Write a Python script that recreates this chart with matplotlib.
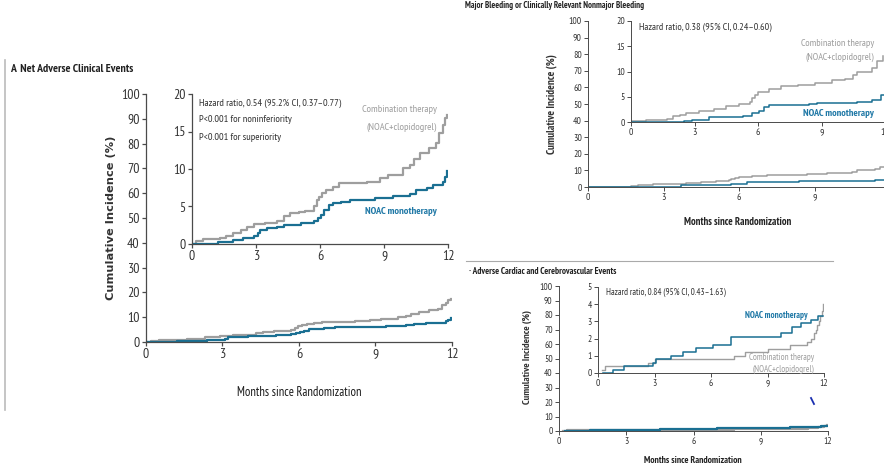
import numpy as np
import matplotlib
matplotlib.use('Agg')
import matplotlib.pyplot as plt
from matplotlib.lines import Line2D

plt.rcParams['font.family'] = ['PT Sans Narrow', 'Roboto Condensed', 'Liberation Sans', 'DejaVu Sans']

W, H = 884, 475
GRAY = '#9e9e9e'
BLUE = '#1a6f92'
LBLUE = '#1f78a6'
AX = '#4a4a4a'
TXT = '#333333'

# ---- data (months, cumulative incidence %) ----
# A: net adverse clinical events
a_comb_t = [0, 0.2, 0.5, 1.3, 1.6, 1.9, 2.3, 2.6, 2.9, 3.4, 4.0, 4.3, 4.6, 5.0, 5.3, 5.7, 5.85,
            5.95, 6.1, 6.3, 6.6, 6.9, 7.5, 8.2, 8.8, 9.2, 9.9, 10.2, 10.4, 10.7, 11.1, 11.45,
            11.6, 11.75, 11.85, 11.95]
a_comb_v = [0, 0.4, 0.7, 0.8, 1.1, 1.4, 1.9, 2.2, 2.6, 2.8, 3.0, 3.7, 4.1, 4.3, 4.4, 5.0, 5.8,
            6.3, 6.8, 7.2, 7.6, 8.1, 8.2, 8.3, 8.8, 9.2, 10.1, 10.6, 11.4, 12.1, 12.8, 13.5,
            14.8, 15.8, 16.8, 17.2]
a_noac_t = [0, 1.2, 1.9, 2.4, 2.9, 3.1, 3.2, 3.5, 4.0, 4.3, 5.1, 5.7, 5.9, 6.05, 6.2, 6.4, 6.6,
            7.0, 7.4, 8.6, 9.4, 10.2, 10.5, 11.0, 11.3, 11.75, 11.85, 11.95]
a_noac_v = [0, 0.3, 0.5, 0.8, 1.0, 1.4, 1.9, 2.1, 2.3, 2.5, 2.8, 3.1, 3.5, 3.9, 4.5, 5.2, 5.4,
            5.6, 5.9, 6.1, 6.4, 6.7, 7.2, 7.5, 7.8, 8.3, 9.0, 9.7]

# B: major or clinically relevant nonmajor bleeding
b_comb_t = [0, 0.7, 1.7, 2.0, 2.3, 2.6, 3.2, 3.9, 4.5, 5.1, 5.6, 5.7, 5.85, 6.0, 6.5, 7.1, 7.9,
            8.7, 9.5, 10.1, 10.5, 10.7, 11.4, 11.6, 11.9]
b_comb_v = [0.2, 0.3, 0.66, 1.1, 1.4, 1.8, 2.1, 2.5, 3.1, 3.5, 4.0, 4.7, 5.3, 6.0, 6.6, 7.1, 7.3,
            7.8, 8.3, 8.6, 9.3, 10.0, 10.6, 12.0, 13.0]
b_noac_t = [0, 2.5, 2.9, 3.7, 5.3, 5.7, 6.05, 6.3, 6.5, 8.4, 8.8, 10.7, 11.4, 11.8, 12.0]
b_noac_v = [0, 0.1, 0.3, 1.0, 1.1, 1.7, 2.1, 3.0, 3.3, 3.5, 3.7, 3.9, 4.3, 5.3, 5.4]

# C: major adverse cardiac and cerebrovascular events
c_noac_t = [0.25, 0.8, 1.4, 2.65, 2.9, 3.1, 3.9, 4.5, 5.2, 6.1, 7.05, 9.7, 10.3, 10.8, 11.3,
            11.7, 11.95]
c_noac_v = [0, 0.2, 0.4, 0.4, 0.6, 0.8, 1.0, 1.2, 1.45, 1.65, 2.1, 2.3, 2.7, 2.9, 3.1, 3.3, 3.3]
c_comb_t = [0.2, 0.35, 2.65, 3.0, 7.2, 7.8, 9.0, 10.2, 11.1, 11.3, 11.45, 11.55, 11.65, 11.75,
            11.8, 11.9, 11.95]
c_comb_v = [0.2, 0.4, 0.6, 0.8, 1.0, 1.2, 1.4, 1.6, 1.8, 2.0, 2.3, 2.5, 2.8, 3.0, 3.3, 3.6, 4.0]

month_ticks = [0, 3, 6, 9, 12]
x_title = 'Months since Randomization'
y_title = 'Cumulative Incidence (%)'


def px_axes(fig, x0, y0, x1, y1):
    # pixel box (top-left origin) -> figure axes
    return fig.add_axes([x0 / W, 1 - y1 / H, (x1 - x0) / W, (y1 - y0) / H])


def style(ax, ymax, ystep, fs, lw=0.9):
    for s in ['top', 'right']:
        ax.spines[s].set_visible(False)
    for s in ['left', 'bottom']:
        ax.spines[s].set_color(AX)
        ax.spines[s].set_linewidth(lw)
    ax.set_xlim(0, 12)
    ax.set_ylim(0, ymax)
    ax.set_xticks(month_ticks)
    ax.set_yticks(np.arange(0, ymax + 0.01, ystep))
    ax.tick_params(colors=AX, labelcolor=TXT, labelsize=fs, length=3, width=lw, pad=1.5)
    ax.patch.set_alpha(0)


def curves(ax, ct, cv, nt, nv, lw):
    ax.plot(ct, cv, drawstyle='steps-post', color=GRAY, lw=lw)
    ax.plot(nt, nv, drawstyle='steps-post', color=BLUE, lw=lw)


def ftext(x, y, s, **kw):
    kw.setdefault('va', 'center')
    fig.text(x / W, 1 - y / H, s, **kw)


fig = plt.figure(figsize=(W / 100, H / 100), dpi=100)

# ---------------- panel A ----------------
axA = px_axes(fig, 146, 94, 452, 342)
style(axA, 100, 10, 10)
curves(axA, a_comb_t, a_comb_v, a_noac_t, a_noac_v, 1.6)
axA.set_xlabel(x_title, fontsize=9, color='#1a1a1a')
axA.xaxis.set_label_coords(0.5, -0.178)
axA.set_ylabel(y_title, fontsize=8.2, family='DejaVu Sans', fontweight='bold', color=TXT)
axA.yaxis.set_label_coords(-0.098, 0.5)

insA = px_axes(fig, 192, 94, 448, 244)
style(insA, 20, 5, 10)
curves(insA, a_comb_t, a_comb_v, a_noac_t, a_noac_v, 1.6)
ftext(199, 103, 'Hazard ratio, 0.54 (95.2% CI, 0.37\u20130.77)', fontsize=7.5, color=TXT)
ftext(199, 120, 'P<0.001 for noninferiority', fontsize=7.5, color=TXT)
ftext(199, 137, 'P<0.001 for superiority', fontsize=7.5, color=TXT)
ftext(437, 109, 'Combination therapy', fontsize=7.5, color=GRAY, ha='right')
ftext(437, 127, '(NOAC+clopidogrel)', fontsize=7.5, color=GRAY, ha='right')
ftext(437, 211, 'NOAC monotherapy', fontsize=7.5, color=LBLUE, ha='right', fontweight='bold')

ftext(10, 69, 'A  Net Adverse Clinical Events', fontsize=8.5, fontweight='bold', color='#222222')
fig.add_artist(Line2D([5 / W, 5 / W], [1 - 60 / H, 1 - 410 / H], color='#bbbbbb', lw=1.2))

# ---------------- panel B ----------------
axB = px_axes(fig, 588, 21, 890, 187)
style(axB, 100, 10, 7, lw=0.7)
curves(axB, b_comb_t, b_comb_v, b_noac_t, b_noac_v, 1.1)
axB.set_xticklabels(['0', '3', '6', '9', ''])   # 12 falls outside the crop
axB.set_xlabel(x_title, fontsize=7.6, fontweight='bold', color='#222222')
axB.xaxis.set_label_coords(0.497, -0.18)
axB.set_ylabel(y_title, fontsize=7.9, fontweight='bold', color=TXT)
axB.yaxis.set_label_coords(-0.103, 0.5)

insB = px_axes(fig, 631, 21, 885, 122)
style(insB, 20, 5, 7, lw=0.7)
curves(insB, b_comb_t, b_comb_v, b_noac_t, b_noac_v, 1.1)
ftext(639, 27, 'Hazard ratio, 0.38 (95% CI, 0.24\u20130.60)', fontsize=7.3, color=TXT)
ftext(874, 44, 'Combination therapy', fontsize=7.3, color=GRAY, ha='right')
ftext(874, 57, '(NOAC+clopidogrel)', fontsize=7.3, color=GRAY, ha='right')
ftext(874, 113, 'NOAC monotherapy', fontsize=7.4, color=LBLUE, ha='right', fontweight='bold')
ftext(465, 5, 'Major Bleeding or Clinically Relevant Nonmajor Bleeding', fontsize=6.4,
      fontweight='bold', color='#222222')

# ---------------- panel C ----------------
axC = px_axes(fig, 559, 286, 828, 431)
style(axC, 100, 10, 6.8, lw=0.7)
curves(axC, c_comb_t, c_comb_v, c_noac_t, c_noac_v, 1.6)
axC.set_xlabel(x_title, fontsize=6.9, fontweight='bold', color='#222222')
axC.xaxis.set_label_coords(0.498, -0.172)
axC.set_ylabel(y_title, fontsize=7.5, fontweight='bold', color=TXT)
axC.yaxis.set_label_coords(-0.1, 0.51)

insC = px_axes(fig, 598, 287, 824, 373)
style(insC, 5, 1, 6.8, lw=0.7)
insC.plot(c_comb_t, c_comb_v, drawstyle='steps-post', color=GRAY, lw=1.0)
insC.plot(c_noac_t, c_noac_v, drawstyle='steps-post', color=BLUE, lw=1.1)
ftext(606, 292, 'Hazard ratio, 0.84 (95% CI, 0.43\u20131.63)', fontsize=6.6, color=TXT)
ftext(808, 315, 'NOAC monotherapy', fontsize=6.5, color=LBLUE, ha='right', fontweight='bold')
ftext(814, 357, 'Combination therapy', fontsize=6.5, color=GRAY, ha='right')
ftext(814, 369, '(NOAC+clopidogrel)', fontsize=6.5, color=GRAY, ha='right')
ftext(469, 272, '\u00b7 Adverse Cardiac and Cerebrovascular Events', fontsize=6.7,
      fontweight='bold', color='#222222')
fig.add_artist(Line2D([466 / W, 833 / W], [1 - 261 / H, 1 - 261 / H], color='#aaaaaa', lw=0.8))
fig.add_artist(Line2D([811 / W, 814 / W], [1 - 398 / H, 1 - 404 / H], color='#1a2fb0', lw=1.3))

fig.savefig('out.png', dpi=100)
